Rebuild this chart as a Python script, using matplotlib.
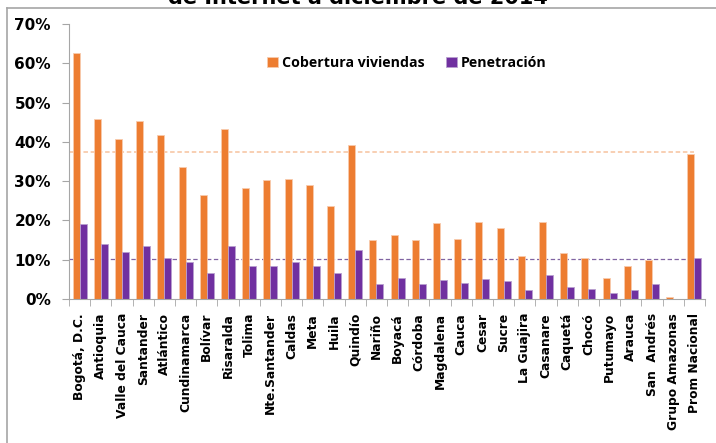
import numpy as np
import matplotlib.pyplot as plt
from matplotlib.lines import Line2D

# Departments and values (%)
departamentos = ["Bogotá, D.C.", "Antioquia", "Valle del Cauca", "Santander", "Atlántico",
                 "Cundinamarca", "Bolívar", "Risaralda", "Tolima", "Nte.Santander",
                 "Caldas", "Meta", "Huila", "Quindío", "Nariño", "Boyacá", "Córdoba",
                 "Magdalena", "Cauca", "Cesar", "Sucre", "La Guajira", "Casanare",
                 "Caquetá", "Chocó", "Putumayo", "Arauca", "San  Andrés",
                 "Grupo Amazonas", "Prom Nacional"]
cobertura = [62.5, 45.9, 40.8, 45.3, 41.8, 33.5, 26.5, 43.3, 28.2, 30.4,
             30.6, 29.1, 23.6, 39.3, 14.9, 16.4, 15.1, 19.3, 15.3, 19.5,
             18.0, 11.0, 19.5, 11.7, 10.5, 5.4, 8.5, 10.0, 0.5, 37.0]
penetracion = [19.1, 14.0, 12.0, 13.4, 10.5, 9.3, 6.6, 13.5, 8.3, 8.3,
               9.5, 8.5, 6.6, 12.4, 3.9, 5.3, 3.7, 4.8, 4.1, 5.1,
               4.5, 2.4, 6.0, 3.0, 2.6, 1.6, 2.2, 3.9, 0.0, 10.5]
ref_cobertura = 37.3
ref_penetracion = 10.1

naranja = "#ED7D31"
morado = "#7030A0"

fig = plt.figure(figsize=(7.16, 4.43), dpi=100)
ax = fig.add_axes([69 / 716, 1 - 299 / 443, 636 / 716, 275 / 443])

x = np.arange(len(departamentos))
w = 0.33

# reference lines
ax.hlines(ref_cobertura, -0.5, x[-1], colors="#F8CBAD", linestyles=(0, (2.5, 1.5)), lw=1.3, zorder=1)
ax.hlines(ref_penetracion, -0.5, x[-1], colors="#8064A2", linestyles=(0, (3.5, 2)), lw=0.9, zorder=1)

ax.bar(x - w / 2, cobertura, w, color=naranja, edgecolor="#F8CBAD", lw=0.6,
       label="Cobertura viviendas", zorder=2)
ax.bar(x + w / 2, penetracion, w, color=morado, edgecolor="#B9A0D0", lw=0.6,
       label="Penetración", zorder=2)

ax.set_xlim(-0.5, len(departamentos) - 0.5)
ax.set_ylim(0, 70)
ax.set_yticks(np.arange(0, 71, 10))
ax.set_yticklabels([f"{v}%" for v in range(0, 71, 10)], fontsize=11, fontweight="bold")
ax.set_xticks(x)
ax.set_xticklabels(departamentos, rotation=90, fontsize=8.8, fontweight="bold")
ax.set_xticks(np.arange(-0.5, len(departamentos), 1), minor=True)
ax.tick_params(axis="x", which="major", length=0, pad=10)
ax.tick_params(axis="x", which="minor", length=5, color="#A6A6A6")
ax.tick_params(axis="y", length=5, color="#A6A6A6", pad=8)

for s in ["top", "right"]:
    ax.spines[s].set_visible(False)
for s in ["left", "bottom"]:
    ax.spines[s].set_color("#A6A6A6")

leg = fig.legend(loc="center", bbox_to_anchor=(407 / 716, 1 - 63 / 443), ncol=2, frameon=False,
                 handlelength=0.75, handleheight=0.75, handletextpad=0.3, columnspacing=1.5,
                 prop={"family": "Open Sans", "weight": "bold", "size": 10.2})

# chart frame (only top and left visible)
fig.add_artist(Line2D([7 / 716, 7 / 716], [-0.01, 1 - 8 / 443], color="#A6A6A6", lw=1.2))
fig.add_artist(Line2D([7 / 716, 1.01], [1 - 8 / 443, 1 - 8 / 443], color="#A6A6A6", lw=1.2))

# title, cut off at the top as in the original
fig.text(0.5, 1 - 4 / 443, "de Internet a diciembre de 2014", ha="center", va="baseline",
         fontsize=15, fontweight="bold")

fig.savefig("out.png", dpi=100)
